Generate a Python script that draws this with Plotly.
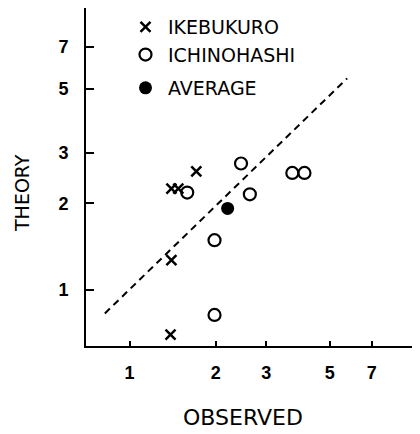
import plotly.graph_objects as go

# Data (log-log axes)
ikebukuro_obs = [1.39, 1.40, 1.40, 1.48, 1.71]
ikebukuro_theory = [0.70, 1.27, 2.25, 2.25, 2.58]

ichinohashi_obs = [1.59, 1.98, 1.98, 2.45, 2.63, 3.70, 4.08]
ichinohashi_theory = [2.18, 1.49, 0.82, 2.75, 2.15, 2.55, 2.55]

average_obs = [2.20]
average_theory = [1.92]

fit_obs = [0.82, 5.75]
fit_theory = [0.83, 5.43]

tick_vals = [1, 2, 3, 5, 7]
tick_text = ["1", "2", "3", "5", "7"]

FONT = "Liberation Sans"

# The page body has an 8px default margin; work in page pixels and convert.
OFF = 8
W, H = 420 - OFF, 434 - OFF
L, R, T, B = 86 - OFF, 4, 0, 88
plot_w = W - L - R
plot_h = H - T - B


def px_x(px):
    return (px - OFF - L) / plot_w


def px_y(py):
    return (H - B - (py - OFF)) / plot_h


fig = go.Figure()

fig.add_trace(go.Scatter(
    x=fit_obs, y=fit_theory, mode="lines",
    line=dict(color="black", width=2, dash="7px,5px"),
    showlegend=False, hoverinfo="skip"))

fig.add_trace(go.Scatter(
    x=ikebukuro_obs, y=ikebukuro_theory, mode="markers", name="IKEBUKURO",
    marker=dict(symbol="x-thin-open", size=10, color="black",
                line=dict(color="black", width=2.5)),
    legend="legend"))

fig.add_trace(go.Scatter(
    x=ichinohashi_obs, y=ichinohashi_theory, mode="markers", name="ICHINOHASHI",
    marker=dict(symbol="circle-open", size=12, color="black",
                line=dict(color="black", width=2.2)),
    legend="legend"))

fig.add_trace(go.Scatter(
    x=average_obs, y=average_theory, mode="markers", name="AVERAGE",
    marker=dict(symbol="circle", size=13, color="black"),
    legend="legend2"))

axis_common = dict(
    type="log", showgrid=False, zeroline=False,
    showline=True, linecolor="black", linewidth=2,
    ticks="inside", tickcolor="black", tickwidth=2,
    tickvals=tick_vals, ticktext=tick_text,
    tickfont=dict(family=FONT, size=18, color="black", weight="bold"),
    mirror=False, automargin=False,
)

fig.update_xaxes(**axis_common, range=[-0.152, 1.0], ticklen=5,
                 ticklabelstandoff=9)
fig.update_yaxes(**axis_common, range=[-0.194, 0.979], ticklen=8,
                 ticklabelstandoff=12)

legend_font = dict(family="DejaVu Sans", size=19, color="black")

fig.update_layout(
    width=W, height=H,
    margin=dict(l=L, r=R, t=T, b=B, autoexpand=False),
    paper_bgcolor="white", plot_bgcolor="white",
    legend=dict(x=px_x(123), y=px_y(8), xanchor="left", yanchor="top",
                font=legend_font, bgcolor="rgba(0,0,0,0)",
                tracegroupgap=0, itemsizing="trace", itemwidth=35),
    legend2=dict(x=px_x(123), y=px_y(69), xanchor="left", yanchor="top",
                 font=legend_font, bgcolor="rgba(0,0,0,0)", itemwidth=35),
    annotations=[
        dict(text="THEORY", x=px_x(22), y=px_y(193), xref="paper", yref="paper",
             xanchor="center", yanchor="middle",
             showarrow=False, textangle=-90,
             font=dict(family="DejaVu Sans", size=19, color="black")),
        dict(text="OBSERVED", x=px_x(243), y=px_y(417), xref="paper", yref="paper",
             xanchor="center", yanchor="middle",
             showarrow=False,
             font=dict(family="DejaVu Sans", size=22, color="black")),
    ],
)

fig.write_html("out.html")
